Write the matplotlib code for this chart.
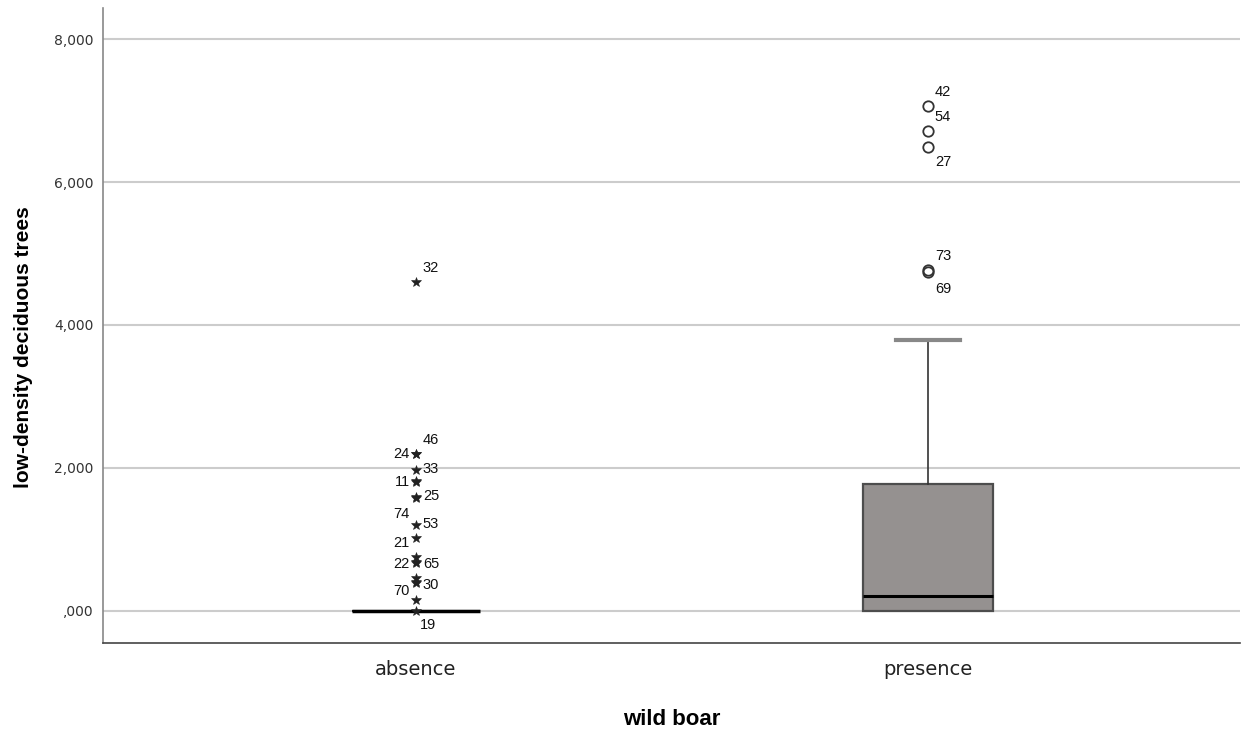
import matplotlib
matplotlib.use("Agg")
import matplotlib.pyplot as plt
from matplotlib.ticker import FuncFormatter

# groups on the x axis
groups = ["absence", "presence"]

# box summary for the presence group (absence collapses to zero)
absence_box = dict(q1=0.0, med=0.0, q3=0.0, whislo=0.0, whishi=0.0)
presence_box = dict(q1=0.0, med=0.21, q3=1.776, whislo=0.0, whishi=3.79)

# extreme values (stars) in the absence group, with case numbers
extreme_cases = ["32", "46", "24", "33", "11", "25", "74", "53", "21", "22", "65", "30", "70", "19"]
extreme_values = [4.600, 2.200, 2.190, 1.975, 1.805, 1.595, 1.585, 1.205, 1.020, 0.680, 0.665, 0.400, 0.155, 0.0]
extra_extremes = [1.820, 0.755, 0.465, 0.385]

# outliers (circles) in the presence group
outlier_cases = ["42", "54", "27", "73", "69"]
outlier_values = [7.063, 6.713, 6.490, 4.770, 4.735]

y_ticks = [0, 2, 4, 6, 8]

# label offsets in pixels, (dx, dy, ha)
R_UP = (7, 14, "left")
R_DN = (7, -15, "left")
R = (7, 1, "left")
L = (-6, 0, "right")
extreme_pos = [R_UP, R_UP, L, R, L, R, (-6, -16, "right"), R, (-6, -5, "right"),
               (-6, -2, "right"), (7, -1, "left"), (7, -3, "left"), (-6, 9, "right"), (4, -14, "left")]
outlier_pos = [R_UP, R_UP, R_DN, R_UP, (7, -17, "left")]


def spss_fmt(v, _):
    s = f"{v:,.3f}".replace(",", "X").replace(".", ",").replace("X", ".")
    if s.startswith("0,"):
        s = s[1:]
    return s


fig = plt.figure(figsize=(12.42, 7.33), dpi=100)
ax = fig.add_axes([0.083, 0.123, 0.915, 0.866])

box_face = "#959190"
box_edge = "#4d4d4d"

ax.bxp([dict(absence_box, fliers=[])], positions=[1], widths=0.25, patch_artist=True,
       showcaps=False, showfliers=False,
       boxprops=dict(facecolor=box_face, edgecolor="#222222", linewidth=1.5),
       medianprops=dict(color="black", linewidth=2.5),
       whiskerprops=dict(color="#333333", linewidth=1))
pres = ax.bxp([dict(presence_box, fliers=[])], positions=[2], widths=0.254, patch_artist=True,
              showfliers=False, capwidths=0.125,
              boxprops=dict(facecolor=box_face, edgecolor=box_edge, linewidth=1.6),
              medianprops=dict(color="black", linewidth=2.2),
              whiskerprops=dict(color="#333333", linewidth=1.2),
              capprops=dict(color="#888888", linewidth=3))
# lower whisker sits on the box edge, so no cap there
pres["caps"][0].set_visible(False)

# extremes as stars
ax.plot([1] * len(extreme_values), extreme_values, linestyle="none", marker="*",
        markersize=7, color="#222222", markeredgewidth=0.4, zorder=4)
ax.plot([1] * len(extra_extremes), extra_extremes, linestyle="none", marker="*",
        markersize=7, color="#222222", markeredgewidth=0.4, zorder=4)
for case, val, (dx, dy, ha) in zip(extreme_cases, extreme_values, extreme_pos):
    ax.annotate(case, (1, val), xytext=(dx, dy), textcoords="offset pixels",
                ha=ha, va="center", fontsize=10.5, family="Liberation Sans", color="#111111")

# outliers as open circles
ax.plot([2] * len(outlier_values), outlier_values, linestyle="none", marker="o",
        markersize=7.5, markerfacecolor="none", markeredgecolor="#333333",
        markeredgewidth=1.3, zorder=4)
for case, val, (dx, dy, ha) in zip(outlier_cases, outlier_values, outlier_pos):
    ax.annotate(case, (2, val), xytext=(dx, dy), textcoords="offset pixels",
                ha=ha, va="center", fontsize=10.5, family="Liberation Sans", color="#111111")

ax.set_xlim(0.389, 2.609)
ax.set_ylim(-0.447, 8.434)
ax.set_yticks(y_ticks)
ax.yaxis.set_major_formatter(FuncFormatter(spss_fmt))
ax.set_xticks([1, 2])
ax.set_xticklabels(groups, fontsize=14, color="#222222")
ax.tick_params(axis="y", length=0, pad=7, labelsize=10, labelcolor="#333333")
ax.tick_params(axis="x", length=0, pad=12)
ax.grid(axis="y", color="#cccccc", linewidth=1.5)
ax.set_axisbelow(True)

for side in ("top", "right"):
    ax.spines[side].set_visible(False)
ax.spines["left"].set_color("#888888")
ax.spines["left"].set_linewidth(1.2)
ax.spines["bottom"].set_color("#444444")
ax.spines["bottom"].set_linewidth(1.2)

ax.set_xlabel("wild boar", fontsize=16, fontweight="bold", family="Liberation Sans", labelpad=22)
ax.set_ylabel("low-density deciduous trees", fontsize=15, fontweight="bold",
              family="Liberation Sans")
ax.yaxis.set_label_coords(-0.062, 0.466)

fig.savefig("out.png", dpi=100)
